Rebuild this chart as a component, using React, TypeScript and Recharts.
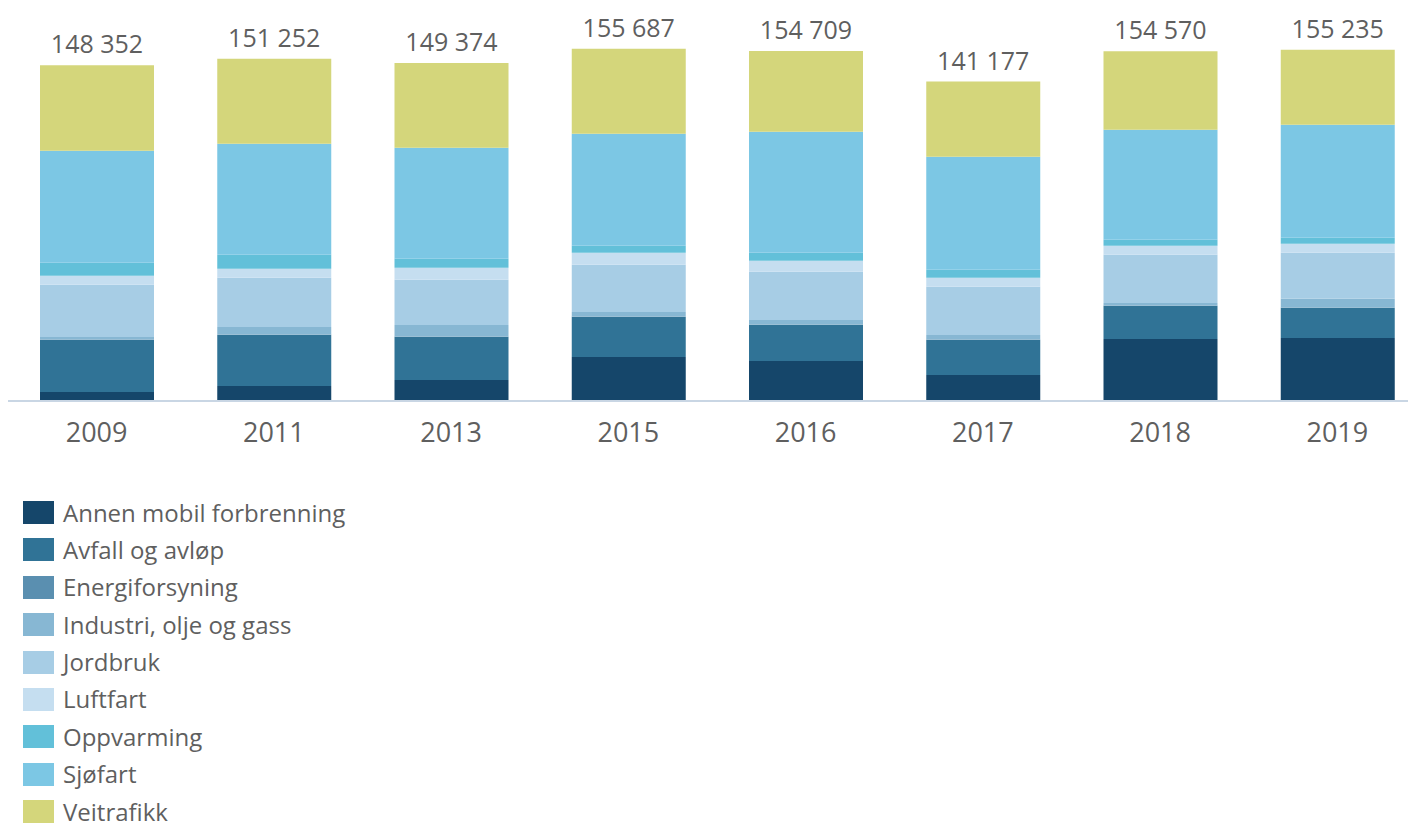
import { BarChart, Bar, XAxis, YAxis, Legend, LabelList } from 'recharts'

const years = ['2009', '2011', '2013', '2015', '2016', '2017', '2018', '2019']
const totals = [148352, 151252, 149374, 155687, 154709, 141177, 154570, 155235]

const annenMobil = [3980, 6640, 9290, 19470, 17700, 11510, 27440, 27880]
const avfall = [23010, 22570, 19030, 17700, 15930, 15490, 14600, 13280]
const energi = [200, 200, 200, 200, 200, 200, 200, 200]
const industri = [1130, 3340, 5110, 2010, 2010, 2010, 1130, 3780]
const jordbruk = [23010, 21680, 19910, 20800, 21240, 21240, 21240, 20360]
const luftfart = [3980, 3980, 5310, 5310, 4870, 3980, 3980, 3980]
const oppvarming = [5750, 6200, 3980, 3100, 3540, 3540, 2660, 2660]
const sjofart = [49560, 49120, 49120, 49560, 53540, 50000, 48680, 50000]
const veitrafikk = [37732, 37522, 37424, 37537, 35679, 33207, 34640, 33095]

const series = [
  { key: 'annen', name: 'Annen mobil forbrenning', values: annenMobil, color: '#15466a' },
  { key: 'avfall', name: 'Avfall og avløp', values: avfall, color: '#307396' },
  { key: 'energi', name: 'Energiforsyning', values: energi, color: '#5a8fb0' },
  { key: 'industri', name: 'Industri, olje og gass', values: industri, color: '#87b7d3' },
  { key: 'jordbruk', name: 'Jordbruk', values: jordbruk, color: '#a7cde5' },
  { key: 'luftfart', name: 'Luftfart', values: luftfart, color: '#c5def0' },
  { key: 'oppvarming', name: 'Oppvarming', values: oppvarming, color: '#62c0d9' },
  { key: 'sjofart', name: 'Sjøfart', values: sjofart, color: '#7cc7e4' },
  { key: 'veitrafikk', name: 'Veitrafikk', values: veitrafikk, color: '#d4d67b' },
]

const data = years.map((year, i) => {
  const row: Record<string, string | number> = { year, total: totals[i] }
  series.forEach((s) => {
    row[s.key] = s.values[i]
  })
  return row
})

const textColor = '#5f5f5f'
const font = '"Open Sans", sans-serif'

const formatTotal = (v: any) =>
  String(v).replace(/\B(?=(\d{3})+(?!\d))/g, ' ')

function LegendList() {
  return (
    <div style={{ height: 324, fontFamily: font }}>
      {series.map((s, i) => (
        <div
          key={s.key}
          style={{
            display: 'flex',
            alignItems: 'center',
            height: 24,
            marginTop: i === 0 ? 0 : 13.4,
          }}
        >
          <span
            style={{
              display: 'inline-block',
              width: 31,
              height: 23,
              background: s.color,
              marginRight: 9,
            }}
          />
          <span style={{ fontSize: 24, lineHeight: 1, color: textColor }}>
            {s.name}
          </span>
        </div>
      ))}
    </div>
  )
}

export default function App() {
  return (
    <div style={{ width: 1408, height: 819, overflow: 'hidden' }}>
      <style>{'body{overflow:hidden}'}</style>
      <BarChart
        width={1418}
        height={819}
        data={data}
        margin={{ top: 31, right: 0, bottom: 52, left: 0 }}
      >
        <XAxis
          dataKey="year"
          height={50}
          tickLine={false}
          tickMargin={16}
          axisLine={{ stroke: '#c9d6e4', strokeWidth: 2 }}
          tick={{ fill: textColor, fontSize: 27, fontFamily: font }}
        />
        <YAxis hide domain={[0, 160000]} />
        <Legend
          verticalAlign="bottom"
          content={() => <LegendList />}
          wrapperStyle={{ top: 492.5, left: 15, width: 400, height: 324 }}
        />
        {series.map((s, idx) => (
          <Bar
            key={s.key}
            dataKey={s.key}
            name={s.name}
            stackId="a"
            fill={s.color}
            barSize={114}
            isAnimationActive={false}
          >
            {idx === series.length - 1 && (
              <LabelList
                dataKey="total"
                position="top"
                offset={12}
                formatter={formatTotal}
                style={{ fill: textColor, fontSize: 25, fontFamily: font }}
              />
            )}
          </Bar>
        ))}
      </BarChart>
    </div>
  )
}
